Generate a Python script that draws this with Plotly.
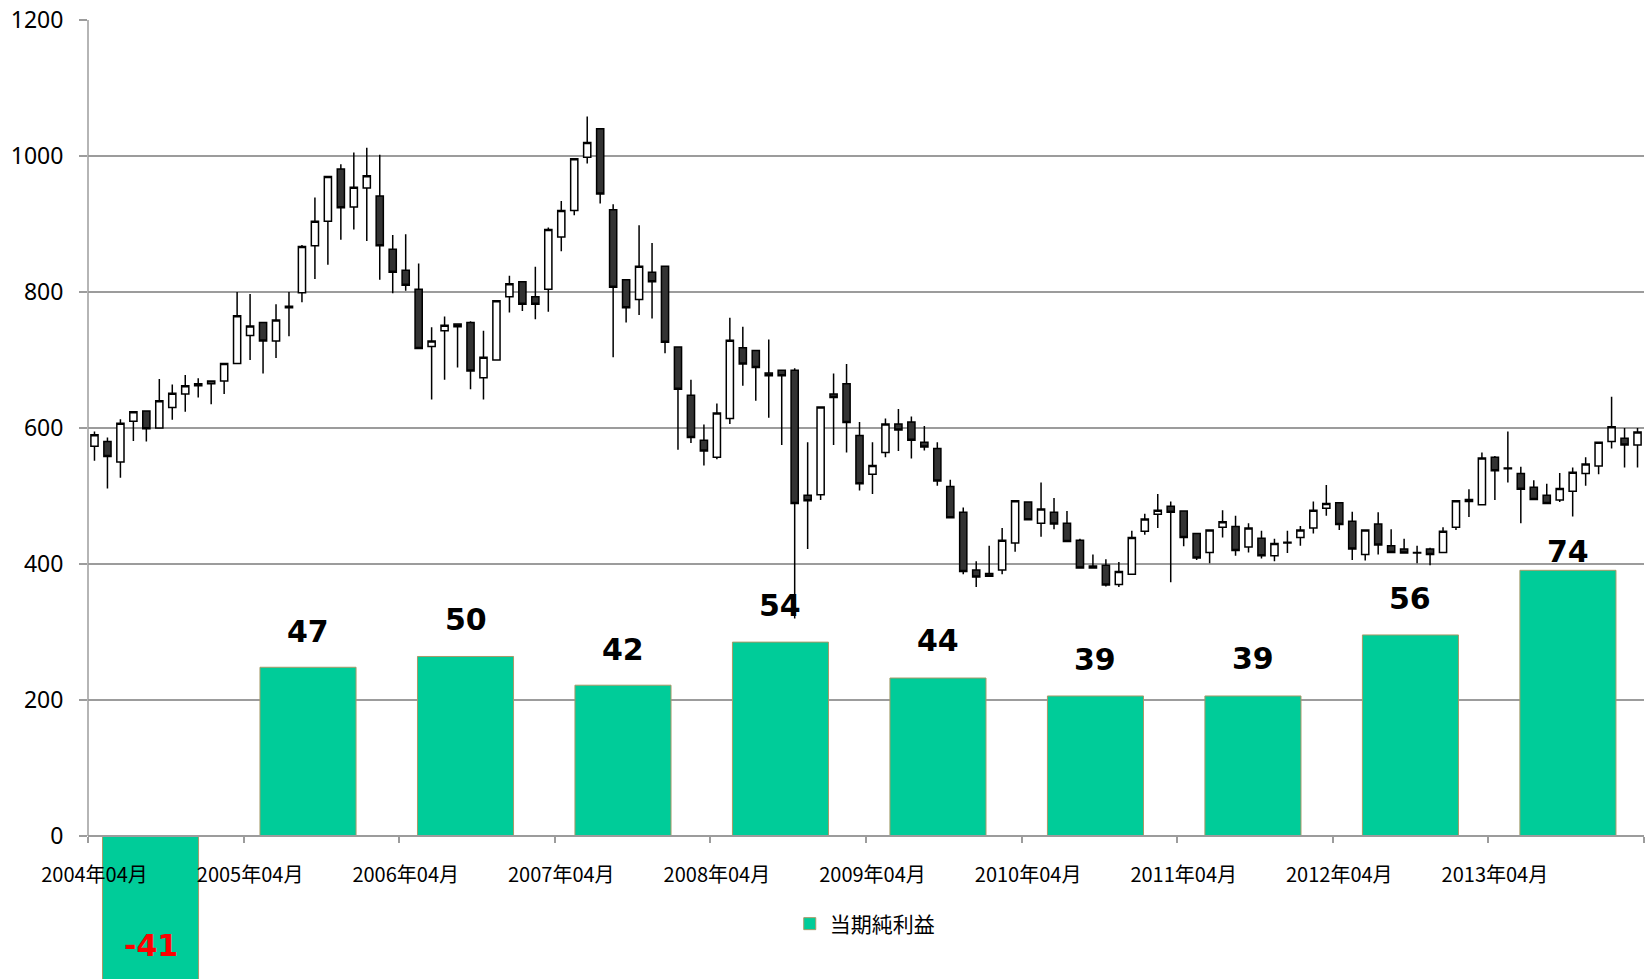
import plotly.graph_objects as go

# ---- monthly candles, 2004/04 .. 2014/03 ----
months = [f"{2004 + (3 + i) // 12}年{(3 + i) % 12 + 1:02d}月" for i in range(120)]

open_ = [573, 580, 550, 610, 625, 600, 630, 650, 665, 665, 669, 695,
         736, 755, 728, 777, 799, 868, 904, 981, 925, 953, 941, 863,
         832, 804, 720, 743, 753, 755, 674, 700, 793, 815, 793, 804,
         881, 920, 998, 1040, 921, 818, 789, 829, 838, 719, 648, 582,
         557, 614, 718, 714, 681, 685, 685, 501, 502, 650, 665, 589,
         532, 564, 606, 609, 579, 570, 514, 476, 391, 386, 391, 431,
         491, 460, 476, 460, 435, 397, 398, 370, 385, 448, 473, 485,
         478, 445, 417, 454, 455, 425, 438, 412, 431, 439, 453, 482,
         490, 463, 414, 459, 427, 422, 417, 422, 417, 454, 495, 487,
         557, 540, 533, 513, 501, 494, 507, 533, 544, 580, 585, 575]
high = [595, 586, 613, 625, 626, 672, 664, 678, 673, 669, 695, 800,
        797, 755, 782, 800, 869, 939, 970, 988, 1005, 1012, 1002, 884,
        885, 842, 748, 764, 753, 757, 743, 788, 824, 815, 837, 895,
        934, 996, 1058, 1040, 929, 818, 898, 872, 838, 719, 671, 605,
        636, 762, 749, 714, 730, 685, 688, 579, 632, 680, 694, 609,
        579, 614, 628, 617, 603, 579, 524, 483, 404, 427, 453, 493,
        491, 520, 497, 478, 437, 414, 407, 403, 449, 474, 503, 492,
        478, 445, 450, 479, 471, 460, 449, 437, 449, 456, 492, 516,
        490, 477, 450, 476, 451, 437, 427, 424, 454, 493, 510, 564,
        559, 595, 543, 523, 518, 534, 542, 557, 579, 646, 600, 600]
low = [552, 511, 527, 581, 580, 600, 612, 624, 645, 635, 650, 695,
       700, 680, 703, 735, 785, 819, 840, 877, 892, 875, 818, 798,
       802, 717, 642, 671, 689, 657, 642, 700, 770, 772, 760, 771,
       860, 913, 989, 930, 704, 755, 766, 761, 710, 568, 578, 545,
       554, 606, 662, 640, 615, 575, 320, 422, 494, 575, 564, 508,
       503, 557, 566, 555, 567, 515, 467, 385, 366, 381, 385, 418,
       464, 440, 451, 433, 394, 394, 367, 366, 385, 443, 453, 373,
       426, 406, 401, 439, 412, 417, 408, 404, 416, 427, 445, 471,
       450, 406, 405, 414, 416, 415, 401, 398, 416, 450, 469, 487,
       494, 520, 460, 495, 489, 491, 470, 515, 532, 570, 542, 542]
close = [590, 558, 607, 624, 599, 640, 651, 662, 662, 669, 695, 765,
         750, 728, 759, 779, 867, 904, 970, 924, 954, 971, 868, 829,
         810, 717, 728, 751, 749, 684, 704, 787, 812, 782, 782, 892,
         920, 996, 1020, 944, 807, 777, 838, 815, 726, 657, 586, 566,
         622, 729, 694, 689, 677, 677, 489, 493, 631, 645, 608, 518,
         545, 606, 597, 582, 572, 522, 468, 389, 381, 382, 435, 493,
         465, 481, 459, 433, 394, 394, 369, 389, 439, 466, 479, 476,
         439, 409, 450, 462, 420, 453, 412, 430, 432, 450, 479, 489,
         458, 422, 450, 428, 417, 416, 416, 414, 448, 493, 492, 556,
         537, 541, 510, 495, 489, 511, 535, 547, 579, 602, 575, 594]

# ---- annual net income (当期純利益), one bar per fiscal year ----
fiscal_years = ["2004年度", "2005年度", "2006年度", "2007年度", "2008年度",
                "2009年度", "2010年度", "2011年度", "2012年度", "2013年度"]
net_income = [-41, 47, 50, 42, 54, 44, 39, 39, 56, 74]

# label offsets in pixels from the bar end (style)
label_shift = [38, 36, 37, 36, 37, 38, 36, 37, 36, 19]

price_ticks = [0, 200, 400, 600, 800, 1000, 1200]
year_tick_idx = list(range(0, 120, 12))
x_idx = list(range(len(months)))

# layout geometry (style)
W, H = 1645, 979
M_L, M_R, M_T = 88, 1, 20
AXIS_PX = 143                    # distance of the price-axis zero line from the bottom
PLOT_H = H - M_T
Y_TOP = 1200
Y_BOTTOM = -Y_TOP * AXIS_PX / (PLOT_H - AXIS_PX)
BAR_SCALE = 5.28                 # secondary axis ratio
px_per_y2 = (PLOT_H / (Y_TOP - Y_BOTTOM)) * BAR_SCALE

fig = go.Figure()

fig.add_trace(go.Bar(
    x=fiscal_years, y=net_income, name="当期純利益",
    xaxis="x2", yaxis="y2", width=0.61,
    marker=dict(color="#00CC99", line=dict(color="#A89968", width=1)),
    hoverinfo="skip",
))

fig.add_trace(go.Candlestick(
    x=x_idx, open=open_, high=high, low=low, close=close,
    showlegend=False, whiskerwidth=0,
    increasing=dict(line=dict(color="#000000", width=1.5), fillcolor="#FFFFFF"),
    decreasing=dict(line=dict(color="#000000", width=1.5), fillcolor="#333333"),
))

annotations = []
for k, (fy, v) in enumerate(zip(fiscal_years, net_income)):
    if v >= 0:
        ya, ys = v, label_shift[k]
    else:
        ya, ys = 0, v * px_per_y2 + label_shift[k]
    annotations.append(dict(
        x=fy, y=ya, xref="x2", yref="y2", text=str(v), showarrow=False,
        xanchor="center", yanchor="middle", yshift=ys,
        font=dict(family="DejaVu Sans", size=30, weight="bold",
                  color="#FF0000" if v < 0 else "#000000"),
    ))

grid = "#9C9C9C"
fig.update_layout(
    width=W, height=H,
    margin=dict(l=M_L, r=M_R, t=M_T, b=0, pad=0),
    paper_bgcolor="white", plot_bgcolor="white",
    boxgap=0.21, boxgroupgap=0.3,
    showlegend=True,
    legend=dict(orientation="h", x=0.451, xanchor="left",
                y=(H - 924) / PLOT_H, yanchor="middle",
                font=dict(family="Noto Sans CJK JP", size=21, color="#000"),
                bgcolor="rgba(0,0,0,0)"),
    xaxis=dict(
        range=[-0.5, 119.5], rangeslider=dict(visible=False),
        anchor="free", position=AXIS_PX / PLOT_H,
        tickmode="array", tickvals=year_tick_idx,
        ticktext=[months[i] for i in year_tick_idx],
        ticks="", showgrid=False, showline=True, linecolor=grid, linewidth=1.5,
        minor=dict(ticks="outside", tick0=-0.5, dtick=12, ticklen=6,
                   tickcolor=grid, tickwidth=1.5, showgrid=False),
        tickfont=dict(family="Noto Sans CJK JP", size=20, color="#000"),
        ticklabelstandoff=21, automargin=False, zeroline=False,
    ),
    yaxis=dict(
        range=[Y_BOTTOM, Y_TOP], tickmode="array", tickvals=price_ticks,
        showgrid=True, gridcolor=grid, gridwidth=1.5,
        showline=False,
        ticks="outside", ticklen=8, tickcolor=grid, tickwidth=1.5,
        tickfont=dict(family="Noto Sans", size=23, color="#000"),
        ticklabelstandoff=11, automargin=False, zeroline=False,
    ),
    xaxis2=dict(overlaying="x", type="category", range=[-0.397, 9.483],
                visible=False, showgrid=False),
    yaxis2=dict(overlaying="y", range=[Y_BOTTOM / BAR_SCALE, Y_TOP / BAR_SCALE],
                visible=False, showgrid=False, zeroline=False),
    shapes=[dict(type="line", xref="paper", yref="y", x0=0, x1=0,
                 y0=0, y1=Y_TOP, line=dict(color=grid, width=1.5), layer="below")],
    annotations=annotations,
)

fig.write_html(
    "out.html",
    config={"displayModeBar": False},
    post_script="document.body.style.margin='0';document.body.style.overflow='hidden';",
)
